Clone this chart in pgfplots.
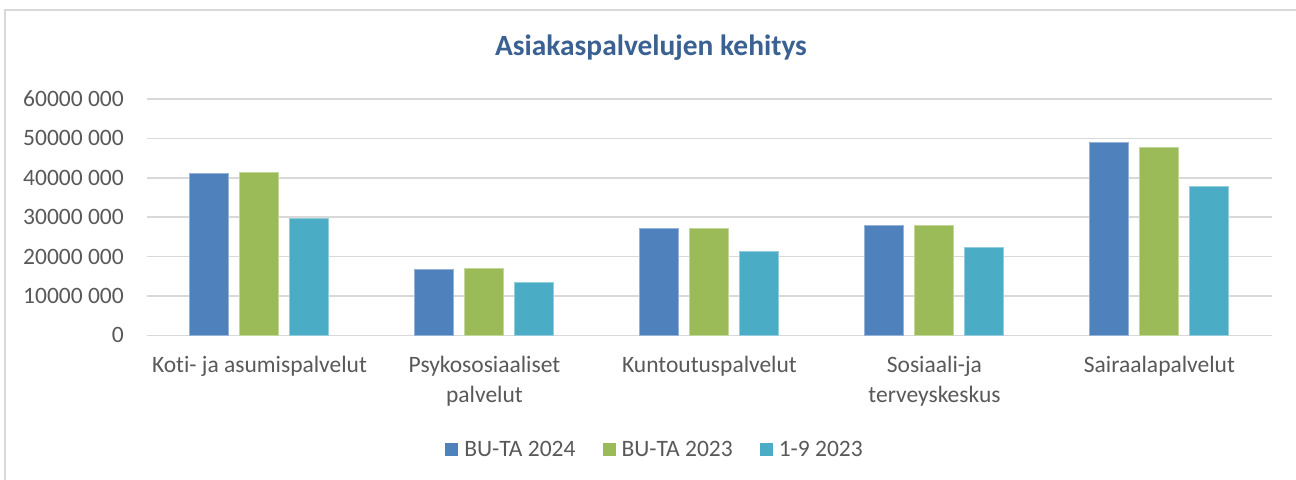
\documentclass[border=0pt]{standalone}
\usepackage{fontspec}
\setmainfont{Carlito}[Ligatures={NoCommon}]
\usepackage{pgfplots}
\pgfplotsset{compat=1.18}
\definecolor{cBlue}{HTML}{4F81BD}
\definecolor{cGreen}{HTML}{9BBB59}
\definecolor{cTeal}{HTML}{4BACC6}
\definecolor{gridc}{HTML}{D9D9D9}
\definecolor{tickc}{HTML}{595959}
\definecolor{titlec}{HTML}{3A6191}
\begin{document}
\begin{tikzpicture}
\useasboundingbox (0,0) rectangle (1296bp,-480bp);
\fill[white] (0,0) rectangle (1296bp,-480bp);
\draw[color=gridc, line width=2bp] (5bp,-482bp) -- (5bp,-10bp) -- (1300bp,-10bp);
\node[font=\fontsize{29.4bp}{32bp}\selectfont\bfseries, text=titlec] at (651bp,-48bp) {Asiakaspalvelujen kehitys};
\begin{axis}[
  at={(147bp,-335.3bp)}, anchor=south west,
  scale only axis, width=1125bp, height=236.3bp,
  ybar=11bp, bar width=39bp,
  xmin=-0.5, xmax=4.5, ymin=0, ymax=60000000,
  xtick={0,1,2,3,4},
  xticklabels={Koti- ja asumispalvelut, {Psykososiaaliset\\palvelut}, Kuntoutuspalvelut, {Sosiaali-ja\\terveyskeskus}, Sairaalapalvelut},
  ytick={0,10000000,20000000,30000000,40000000,50000000,60000000},
  yticklabels={0,10000 000,20000 000,30000 000,40000 000,50000 000,60000 000},
  scaled y ticks=false,
  ymajorgrids, grid style={draw=gridc, line width=1.5bp},
  axis line style={draw=none},
  major tick length=0pt,
  tick label style={font=\fontsize{23.5bp}{30bp}\selectfont, text=tickc},
  yticklabel style={inner sep=0pt, xshift=-23bp},
  xticklabel style={align=center, inner sep=0pt, yshift=-21bp},
  legend columns=3,
  legend style={at={(0.4516,-0.482)}, anchor=center, draw=none, fill=none,
    font=\fontsize{23.5bp}{28bp}\selectfont, text=tickc,
    /tikz/every even column/.append style={column sep=25bp},
    nodes={inner sep=2bp}},
  legend image code/.code={\fill[#1,draw=none] (0bp,-6.5bp) rectangle (13bp,6.5bp); \path[draw=none,fill=none] (13bp,0bp) -- (17bp,0bp);},
  every axis plot/.append style={line width=1bp},
]
\addplot[fill=cBlue, draw=cBlue!60!white] coordinates {(0,41200000) (1,16700000) (2,27000000) (3,27800000) (4,48900000)};
\addplot[fill=cGreen, draw=cGreen!60!white] coordinates {(0,41400000) (1,16900000) (2,27100000) (3,28000000) (4,47800000)};
\addplot[fill=cTeal, draw=cTeal!60!white] coordinates {(0,29600000) (1,13500000) (2,21200000) (3,22400000) (4,37800000)};
\legend{BU-TA 2024, BU-TA 2023, 1-9 2023}
\end{axis}
\end{tikzpicture}
\end{document}
